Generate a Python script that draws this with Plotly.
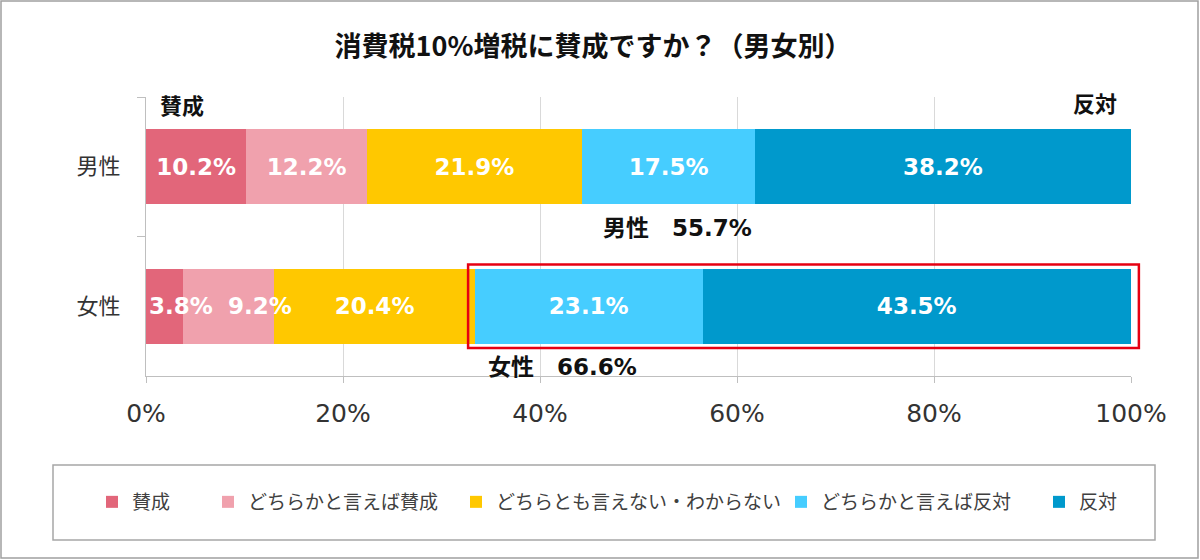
import plotly.graph_objects as go

# ---- data ----
categories = ["男性", "女性"]
series_names = ["賛成", "どちらかと言えば賛成", "どちらとも言えない・わからない", "どちらかと言えば反対", "反対"]
male_values = [10.2, 12.2, 21.9, 17.5, 38.2]
female_values = [3.8, 9.2, 20.4, 23.1, 43.5]
x_tick_values = [0, 20, 40, 60, 80, 100]
x_tick_labels = ["0%", "20%", "40%", "60%", "80%", "100%"]

colors = ["#E2667A", "#F0A1AD", "#FFC800", "#46CDFF", "#0099CC"]

W, H = 1200, 560
L, R, T, B = 146, 1131, 97, 376

def px2x(px):
    return (px - L) / (R - L)

def py2y(py):
    return (B - py) / (B - T)

def cat2y(v):
    # category coordinate -> paper y for reversed range [1.5, -0.5]
    return (1.5 - v) / 2.0

FONT = "DejaVu Sans, Noto Sans CJK JP, sans-serif"
CJK = "Noto Sans CJK JP, DejaVu Sans, sans-serif"
label_font = dict(family=FONT, size=23, color="white", weight="bold")

# small female segments whose labels were nudged right in the original
shifted = {0: 16, 1: 31}

fig = go.Figure()
legend_centers = [111, 227, 475, 800, 1058]
for i, name in enumerate(series_names):
    vals = [male_values[i], female_values[i]]
    texts = [f"{v:.1f}%" for v in vals]
    if i in shifted:
        texts[1] = ""
    fig.add_trace(go.Bar(
        y=categories, x=vals, name=name, orientation="h",
        marker=dict(color=colors[i], line=dict(width=0)),
        text=texts, texttemplate="%{text}",
        textposition="inside", insidetextanchor="middle",
        constraintext="none", textangle=0,
        textfont=label_font,
        legend="legend" if i == 0 else f"legend{i+1}",
        hovertemplate="%{y} " + name + ": %{x:.1f}%<extra></extra>",
    ))

# labels for the nudged female segments
cum = 0.0
for i, v in enumerate(female_values):
    if i in shifted:
        fig.add_annotation(xref="x", yref="y", x=cum + v / 2, y=categories[1],
                           text=f"{v:.1f}%", showarrow=False, xanchor="center",
                           yanchor="middle", xshift=shifted[i], font=label_font)
    cum += v

layout_legends = {}
for i, c in enumerate(legend_centers):
    key = "legend" if i == 0 else f"legend{i+1}"
    layout_legends[key] = dict(
        x=px2x(c - 19), xanchor="left", y=py2y(502), yanchor="middle",
        orientation="h", bgcolor="rgba(0,0,0,0)", borderwidth=0,
        font=dict(family=CJK, size=19, color="#404040"),
        itemclick=False, itemdoubleclick=False,
    )

oppose_male = male_values[3] + male_values[4]
oppose_female = female_values[3] + female_values[4]
female_left = sum(female_values[:3])

fig.update_layout(
    width=W, height=H,
    margin=dict(l=L, r=W - R, t=T, b=H - B),
    paper_bgcolor="white", plot_bgcolor="white",
    barmode="stack", bargap=0.46,
    showlegend=True,
    title=dict(text="<b>消費税10%増税に賛成ですか？（男女別）</b>",
               x=593 / W, xref="container", xanchor="center",
               y=1 - 47 / H, yref="container", yanchor="middle",
               font=dict(family=CJK, size=27, color="#111111")),
    xaxis=dict(range=[0, 100], tickvals=x_tick_values, ticktext=x_tick_labels,
               showgrid=True, gridcolor="#D9D9D9", gridwidth=1,
               zeroline=False, showline=True, linecolor="#BFBFBF", linewidth=1,
               ticks="outside", ticklen=6, tickcolor="#BFBFBF",
               ticklabelstandoff=9,
               tickfont=dict(family=FONT, size=25, color="#333333"), fixedrange=True),
    yaxis=dict(type="category", categoryorder="array", categoryarray=categories,
               range=[1.5, -0.5], showgrid=False, zeroline=False,
               showline=True, linecolor="#BFBFBF", linewidth=1,
               ticks="outside", tickson="boundaries", ticklen=8, tickcolor="#BFBFBF",
               ticklabelstandoff=20,
               tickfont=dict(family=CJK, size=22, color="#333333"), fixedrange=True),
    **layout_legends,
)

# highlight box around female opposition (paper coords so it is not clipped)
fig.add_shape(type="rect", xref="paper", yref="paper",
              x0=(female_left - 0.7) / 100, x1=100.8 / 100,
              y0=cat2y(1.3), y1=cat2y(0.7),
              line=dict(color="#E60012", width=2.5), layer="above")

# legend frame
fig.add_shape(type="rect", xref="paper", yref="paper",
              x0=px2x(53), x1=px2x(1155), y0=py2y(540), y1=py2y(465),
              line=dict(color="#A6A6A6", width=1.5))
# outer frame
fig.add_shape(type="rect", xref="paper", yref="paper",
              x0=px2x(1), x1=px2x(1198), y0=py2y(558), y1=py2y(1),
              line=dict(color="#A0A0A0", width=1.5))

ann_font = dict(family=FONT, size=23, color="#111111")
side_font = dict(family=CJK, size=22, color="#111111")
fig.add_annotation(xref="paper", yref="paper", x=px2x(182), y=py2y(104),
                   xanchor="center", yanchor="middle",
                   text="<b>賛成</b>", showarrow=False, font=side_font)
fig.add_annotation(xref="paper", yref="paper", x=px2x(1095), y=py2y(102),
                   xanchor="center", yanchor="middle",
                   text="<b>反対</b>", showarrow=False, font=side_font)
fig.add_annotation(xref="paper", yref="paper", x=px2x(677), y=py2y(228),
                   xanchor="center", yanchor="middle",
                   text=f"<b>{categories[0]}\u2002\u2002{oppose_male:.1f}%</b>", showarrow=False, font=ann_font)
fig.add_annotation(xref="paper", yref="paper", x=px2x(562), y=py2y(367),
                   xanchor="center", yanchor="middle",
                   text=f"<b>{categories[1]}\u2002\u2002{oppose_female:.1f}%</b>", showarrow=False, font=ann_font)

fig.write_html("out.html", config={"displayModeBar": False},
               post_script="document.body.style.margin='0';")
